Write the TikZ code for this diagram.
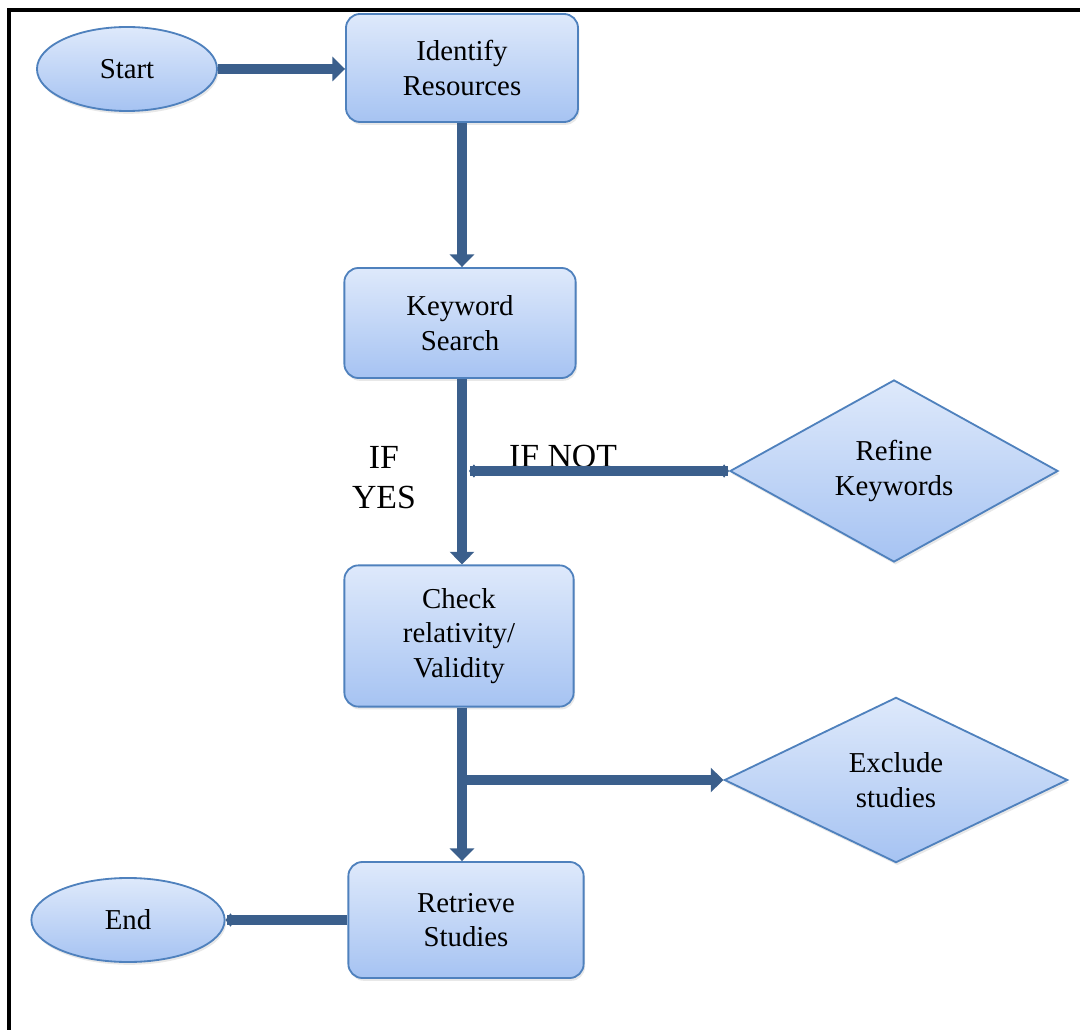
\documentclass[tikz,border=0pt]{standalone}
\usepackage{fontspec}
\setmainfont{Liberation Serif}
\usetikzlibrary{shapes.geometric,arrows.meta,shadows}
\definecolor{linkblue}{RGB}{59,95,140}
\definecolor{edgeblue}{RGB}{79,129,189}
\definecolor{topblue}{RGB}{222,233,251}
\definecolor{botblue}{RGB}{166,195,242}
\tikzset{
	boxnode/.style={draw=edgeblue, line width=1.3pt, rounded corners=10pt, top color=topblue, bottom color=botblue, align=center, inner sep=0pt, font=\fontsize{20.5}{24.5}\selectfont, drop shadow={opacity=0.18, shadow xshift=1pt, shadow yshift=-2pt}},
	ovalnode/.style={boxnode, ellipse, sharp corners},
	choicenode/.style={boxnode, diamond, sharp corners},
	flow/.style={draw=linkblue, line width=7pt, -{Triangle[length=9pt,width=17pt]}},
	bothflow/.style={draw=linkblue, line width=7pt, {Diamond[length=7pt,width=9.5pt]}-{Diamond[length=7pt,width=9.5pt]}},
	endflow/.style={draw=linkblue, line width=7pt, -{Diamond[length=7pt,width=9.5pt]}},
	caption/.style={align=center, font=\fontsize{24}{28.5}\selectfont}
}
\begin{document}
\begin{tikzpicture}[x=0.025cm, y=-0.025cm]
			% frame
			\useasboundingbox (0,0) rectangle (1080,1030);
			\draw [line width=2.2pt] (9,1030) -- (9,10) -- (1080,10);
			% nodes
			\node [ovalnode, minimum width=4.5cm, minimum height=2.1cm] (start) at (127,69) {Start};
			\node [boxnode, minimum width=5.8cm, minimum height=2.7cm] (identify) at (462,68) {Identify\\Resources};
			\node [boxnode, minimum width=5.78cm, minimum height=2.75cm] (keyword) at (460,323) {Keyword\\Search};
			\node [choicenode, minimum width=8.2cm, minimum height=4.55cm] (refine) at (894,471) {Refine\\Keywords};
			\node [boxnode, minimum width=5.73cm, minimum height=3.53cm] (check) at (459,636) {Check\\relativity/\\Validity};
			\node [choicenode, minimum width=8.58cm, minimum height=4.13cm] (exclude) at (896,780) {Exclude\\studies};
			\node [boxnode, minimum width=5.88cm, minimum height=2.9cm] (retrieve) at (466,920) {Retrieve\\Studies};
			\node [ovalnode, minimum width=4.83cm, minimum height=2.1cm] (finish) at (128,920) {End};
			% labels
			\node [caption] (ifyes) at (384,478) {IF\\YES};
			\node [caption, anchor=base] (ifnot) at (563,467) {IF NOT};
			% connectors
			\coordinate (joinnot) at (469,471);
			\coordinate (joinout) at (458,780);
			\draw [flow] (start.east) -- (start.east -| identify.west);
			\draw [flow] (identify.south) -- (identify.south |- keyword.north);
			\draw [flow] (keyword.south -| 462,0) -- (check.north -| 462,0);
			\draw [bothflow] (refine.west) -- (joinnot);
			\draw [flow] (check.south -| 462,0) -- (retrieve.north -| 462,0);
			\draw [flow] (joinout) -- (exclude.west);
			\draw [endflow] (retrieve.west) -- (finish.east);
\end{tikzpicture}
\end{document}
